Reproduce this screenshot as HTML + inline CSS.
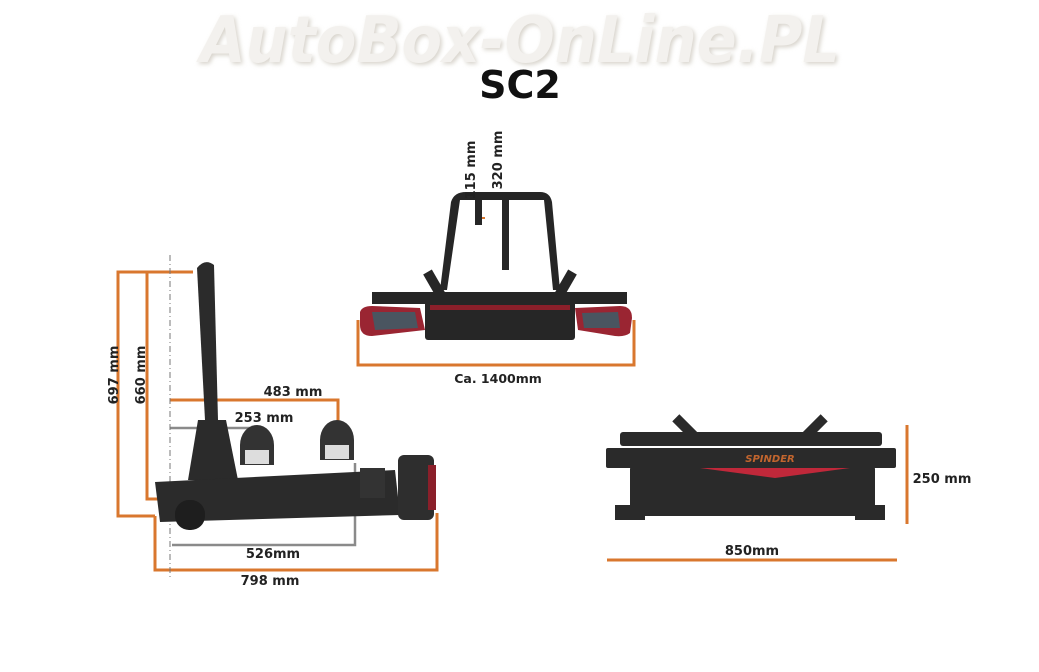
<!DOCTYPE html>
<html><head><meta charset="utf-8"><style>
html,body{margin:0;padding:0;background:#fff;width:1039px;height:672px;overflow:hidden}
svg{display:block}
text{font-family:"DejaVu Sans","Liberation Sans",sans-serif}
</style></head><body>
<svg width="1039" height="672" viewBox="0 0 1039 672" xmlns="http://www.w3.org/2000/svg">
<defs><filter id="sh"><feGaussianBlur stdDeviation="2"/></filter></defs>
<!-- watermark -->
<text x="522" y="64" text-anchor="middle" font-family="Liberation Sans" font-style="italic" font-weight="bold" font-size="64" fill="#d8d4cc" filter="url(#sh)" textLength="640" lengthAdjust="spacingAndGlyphs">AutoBox-OnLine.PL</text>
<text x="520" y="62" text-anchor="middle" font-family="Liberation Sans" font-style="italic" font-weight="bold" font-size="64" fill="#f3f1ee" textLength="640" lengthAdjust="spacingAndGlyphs">AutoBox-OnLine.PL</text>
<text x="520" y="98" text-anchor="middle" font-weight="bold" font-size="38" fill="#111">SC2</text>

<g stroke="#d9772e" stroke-width="3" fill="none">
<polyline points="193,272 118,272 118,516 155,516"/>
<polyline points="147,272 147,499 170,499"/>
<polyline points="170,400 338,400 338,458"/>
<polyline points="155,516 155,570 437,570 437,513"/>
<polyline points="358,320 358,365 634,365 634,320"/>
<polyline points="477,195 477,218 485,218" stroke-width="2"/>
<polyline points="504,195 503,262 509,262" stroke-width="2"/>
<line x1="907" y1="425" x2="907" y2="524"/>
<line x1="607" y1="560" x2="897" y2="560"/>
</g>
<g stroke="#8a8a8a" stroke-width="2.5" fill="none">
<polyline points="170,428 255,428 255,462"/>
<polyline points="355,463 355,545 172,545"/>
</g>
<line x1="170" y1="255" x2="170" y2="578" stroke="#777" stroke-width="1" stroke-dasharray="6,3,1,3"/>

<!-- left device -->
<g fill="#2b2b2b">
<path d="M197,268 Q205,258 214,265 L218,420 L205,420 Z"/>
<path d="M198,420 L226,420 L238,480 L188,480 Z"/>
<path d="M155,482 L395,470 L400,515 L160,522 Z"/>
<rect x="175" y="500" width="30" height="30" rx="14" fill="#1e1e1e"/>
<rect x="398" y="455" width="36" height="65" rx="6" fill="#2e2e2e"/>
<rect x="428" y="465" width="8" height="45" fill="#8b1f2a"/>
<path d="M240,445 a17,20 0 0 1 34,0 v20 h-34z" fill="#333"/>
<path d="M320,440 a17,20 0 0 1 34,0 v20 h-34z" fill="#333"/>
<rect x="245" y="450" width="24" height="14" fill="#ddd"/>
<rect x="325" y="445" width="24" height="14" fill="#ddd"/>
<rect x="360" y="468" width="25" height="30" fill="#333"/>
</g>

<!-- center device -->
<g fill="#262626">
<path d="M440,290 L451,202 Q454,192 466,192 L540,192 Q550,192 552,202 L560,290 L553,290 L544,200 L460,200 L447,290 Z"/>
<rect x="475" y="200" width="7" height="25"/>
<rect x="502" y="195" width="7" height="75"/>
<rect x="372" y="292" width="255" height="12"/>
<rect x="425" y="295" width="150" height="45" rx="3"/>
<rect x="430" y="270" width="10" height="30" transform="rotate(-30 435 285)"/>
<rect x="560" y="270" width="10" height="30" transform="rotate(30 565 285)"/>
</g>
<rect x="430" y="305" width="140" height="5" fill="#8b1f2a"/>
<path d="M360,312 Q362,306 372,306 L420,308 L425,330 L372,336 Q360,336 360,325 Z" fill="#9a2532"/>
<path d="M372,312 L415,312 L418,328 L375,330 Z" fill="#4a5560"/>
<path d="M575,308 L620,306 Q632,306 632,318 L630,333 Q625,337 615,336 L578,330 Z" fill="#9a2532"/>
<path d="M582,313 L618,312 L620,328 L584,328 Z" fill="#4a5560"/>

<!-- right device -->
<g fill="#2a2a2a">
<rect x="620" y="432" width="262" height="14" rx="3"/>
<rect x="606" y="448" width="290" height="20" rx="2"/>
<rect x="630" y="466" width="245" height="50" rx="3"/>
<rect x="615" y="505" width="30" height="15"/>
<rect x="855" y="505" width="30" height="15"/>
<rect x="680" y="414" width="10" height="26" transform="rotate(-45 685 427)"/>
<rect x="810" y="414" width="10" height="26" transform="rotate(45 815 427)"/>
</g>
<path d="M700,468 L850,468 L775,478 Z" fill="#c0283a"/>
<text x="770" y="462" text-anchor="middle" font-size="10" font-style="italic" font-weight="bold" fill="#c2652e">SPINDER</text>

<!-- labels -->
<g font-size="13" font-weight="bold" fill="#222">
<text transform="translate(118,375) rotate(-90)" text-anchor="middle">697 mm</text>
<text transform="translate(145,375) rotate(-90)" text-anchor="middle">660 mm</text>
<text x="293" y="396" text-anchor="middle">483 mm</text>
<text x="264" y="422" text-anchor="middle">253 mm</text>
<text x="273" y="558" text-anchor="middle">526mm</text>
<text x="270" y="585" text-anchor="middle">798 mm</text>
<text transform="translate(475,170) rotate(-90)" text-anchor="middle">115 mm</text>
<text transform="translate(502,160) rotate(-90)" text-anchor="middle">320 mm</text>
<text x="498" y="383" text-anchor="middle" font-size="12.5">Ca. 1400mm</text>
<text x="942" y="483" text-anchor="middle">250 mm</text>
<text x="752" y="555" text-anchor="middle">850mm</text>
</g>
</svg>
</body></html>
